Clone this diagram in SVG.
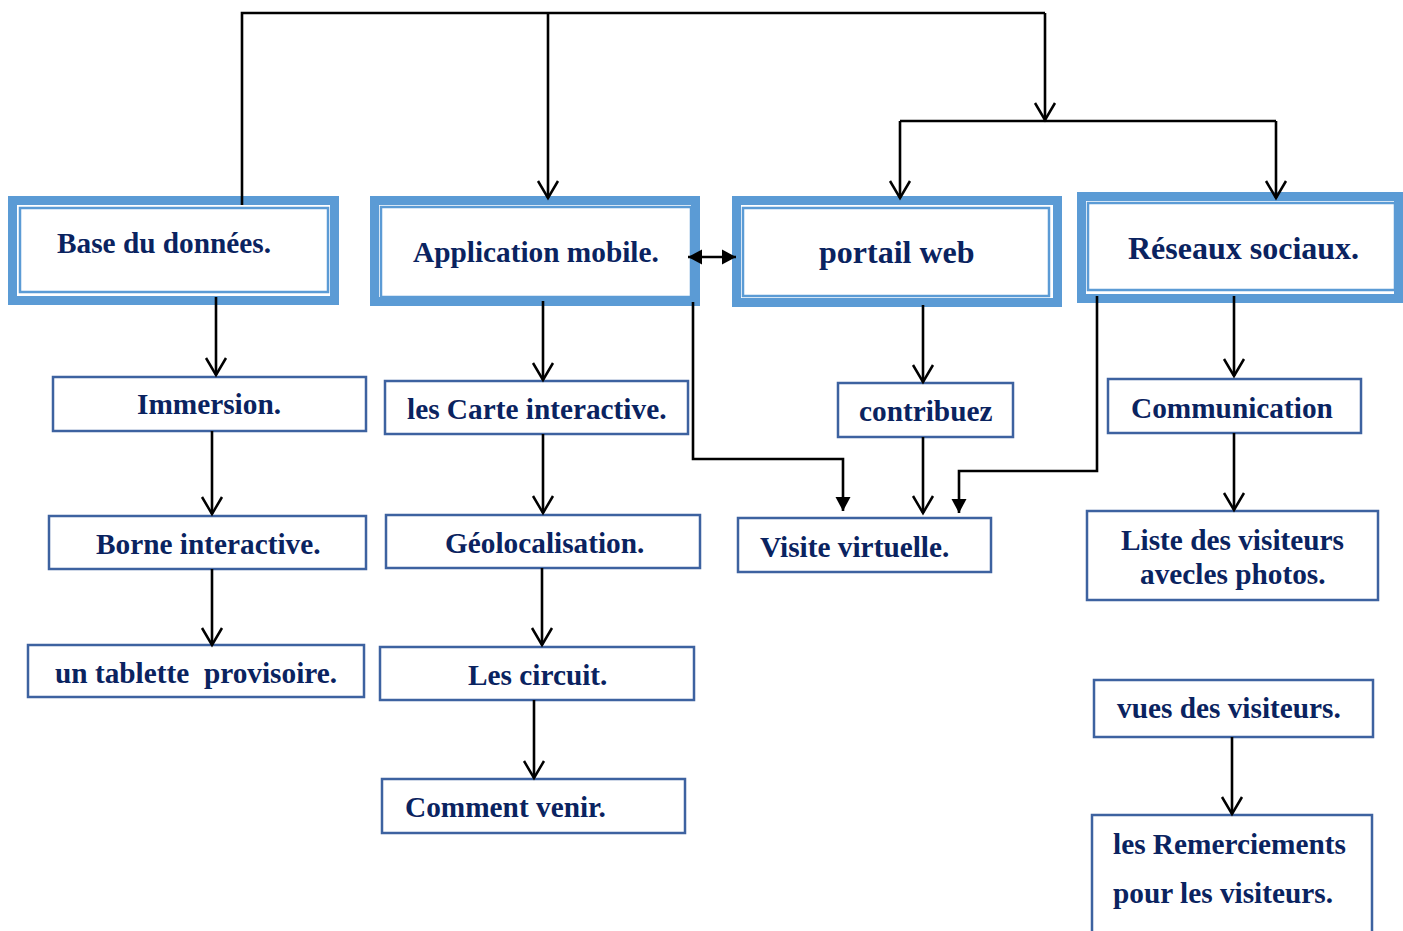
<svg xmlns="http://www.w3.org/2000/svg" width="1403" height="931" viewBox="0 0 1403 931">
<style>
  .outer { fill: none; stroke: #5B9BD5; stroke-width: 9; }
  .inner { fill: none; stroke: #5B9BD5; stroke-width: 2.5; }
  .box { fill: #FFFFFF; stroke: #3D62A0; stroke-width: 2.5; }
  .t { font-family: "Liberation Serif", "Times New Roman", serif; font-weight: bold; font-size: 29.3px; fill: #0A2360; }
  .big { font-size: 32px; }
  .c { fill: none; stroke: #000; stroke-width: 2.6; }
  .oa { marker-end: url(#open); }
  .fa { marker-end: url(#filled); }
</style>
<defs>
  <marker id="open" markerUnits="userSpaceOnUse" markerWidth="30" markerHeight="30" viewBox="-20 -15 30 30" refX="0" refY="0" orient="auto" overflow="visible">
    <path d="M-17,-10 L0,0 L-17,10" fill="none" stroke="#000" stroke-width="2.5"/>
  </marker>
  <marker id="filled" markerUnits="userSpaceOnUse" markerWidth="30" markerHeight="30" viewBox="-20 -15 30 30" refX="0" refY="0" orient="auto-start-reverse" overflow="visible">
    <path d="M-14,-7.5 L0,0 L-14,7.5 Z" fill="#000"/>
  </marker>
</defs>
<rect width="1403" height="931" fill="#FFFFFF"/>

<g id="base-donnees">
  <rect class="outer" x="12.5" y="200.5" width="322" height="100"/>
  <rect class="inner" x="20" y="208" width="308" height="84"/>
  <text class="t" x="57" y="253">Base du données.</text>
</g>
<g id="application-mobile">
  <rect class="outer" x="374.5" y="200.5" width="321" height="101"/>
  <rect class="inner" x="381" y="207" width="310" height="90"/>
  <text class="t" x="413" y="262">Application mobile.</text>
</g>
<g id="portail-web">
  <rect class="outer" x="736.5" y="200.5" width="321" height="102"/>
  <rect class="inner" x="743" y="208" width="306" height="88"/>
  <text class="t big" x="819" y="263">portail web</text>
</g>
<g id="reseaux-sociaux">
  <rect class="outer" x="1081.5" y="196.5" width="317" height="102"/>
  <rect class="inner" x="1088" y="203" width="307" height="87"/>
  <text class="t big" x="1128" y="259">Réseaux sociaux.</text>
</g>

<g id="immersion">
  <rect class="box" x="53" y="377" width="313" height="54"/>
  <text class="t" x="137" y="414">Immersion.</text>
</g>
<g id="borne-interactive">
  <rect class="box" x="49" y="516" width="317" height="53"/>
  <text class="t" x="96" y="554">Borne interactive.</text>
</g>
<g id="tablette-provisoire">
  <rect class="box" x="28" y="645" width="336" height="52"/>
  <text class="t" x="55" y="683">un tablette&#160; provisoire.</text>
</g>

<g id="carte-interactive">
  <rect class="box" x="385" y="381" width="303" height="53"/>
  <text class="t" x="407" y="419">les Carte interactive.</text>
</g>
<g id="geolocalisation">
  <rect class="box" x="386" y="515" width="314" height="53"/>
  <text class="t" x="445" y="553">Géolocalisation.</text>
</g>
<g id="les-circuit">
  <rect class="box" x="380" y="647" width="314" height="53"/>
  <text class="t" x="468" y="685">Les circuit.</text>
</g>
<g id="comment-venir">
  <rect class="box" x="382" y="779" width="303" height="54"/>
  <text class="t" x="405" y="817">Comment venir.</text>
</g>

<g id="contribuez">
  <rect class="box" x="838" y="383" width="175" height="54"/>
  <text class="t" x="859" y="421">contribuez</text>
</g>
<g id="visite-virtuelle">
  <rect class="box" x="738" y="518" width="253" height="54"/>
  <text class="t" x="760" y="557">Visite virtuelle.</text>
</g>

<g id="communication">
  <rect class="box" x="1108" y="379" width="253" height="54"/>
  <text class="t" x="1131" y="418">Communication</text>
</g>
<g id="liste-visiteurs">
  <rect class="box" x="1087" y="511" width="291" height="89"/>
  <text class="t" x="1121" y="550">Liste des visiteurs</text>
  <text class="t" x="1140" y="584">avecles photos.</text>
</g>
<g id="vues-visiteurs">
  <rect class="box" x="1094" y="680" width="279" height="57"/>
  <text class="t" x="1117" y="718">vues des visiteurs.</text>
</g>
<g id="remerciements">
  <path class="box" fill="none" d="M1092,935 L1092,815 L1372,815 L1372,935"/>
  <text class="t" x="1113" y="854">les Remerciements</text>
  <text class="t" x="1113" y="903">pour les visiteurs.</text>
</g>

<g id="connectors">
  <path class="c" d="M242,205 L242,13 L1045,13" stroke-width="3.4"/>
  <path class="c oa" d="M548,13 L548,198"/>
  <path class="c oa" d="M1045,13 L1045,120"/>
  <path class="c" d="M900,121 L1276,121" stroke-width="3.2"/>
  <path class="c oa" d="M900,121 L900,198"/>
  <path class="c oa" d="M1276,121 L1276,198"/>

  <path class="c oa" d="M216,297 L216,375"/>
  <path class="c oa" d="M212,431 L212,514"/>
  <path class="c oa" d="M212,569 L212,645"/>

  <path class="c oa" d="M543,301 L543,380"/>
  <path class="c oa" d="M543,434 L543,513"/>
  <path class="c oa" d="M542,568 L542,645"/>
  <path class="c oa" d="M534,700 L534,778"/>

  <path class="c fa" d="M693,302 L693,459 L843,459 L843,511"/>
  <path class="c oa" d="M923,305 L923,382"/>
  <path class="c oa" d="M923,437 L923,513"/>
  <path class="c fa" d="M1097,296 L1097,471 L959,471 L959,513"/>

  <path class="c oa" d="M1234,296 L1234,376"/>
  <path class="c oa" d="M1234,433 L1234,510"/>
  <path class="c oa" d="M1232,737 L1232,814"/>

  <path class="c fa" d="M688,257 L736,257" marker-start="url(#filled)"/>
</g>
</svg>
